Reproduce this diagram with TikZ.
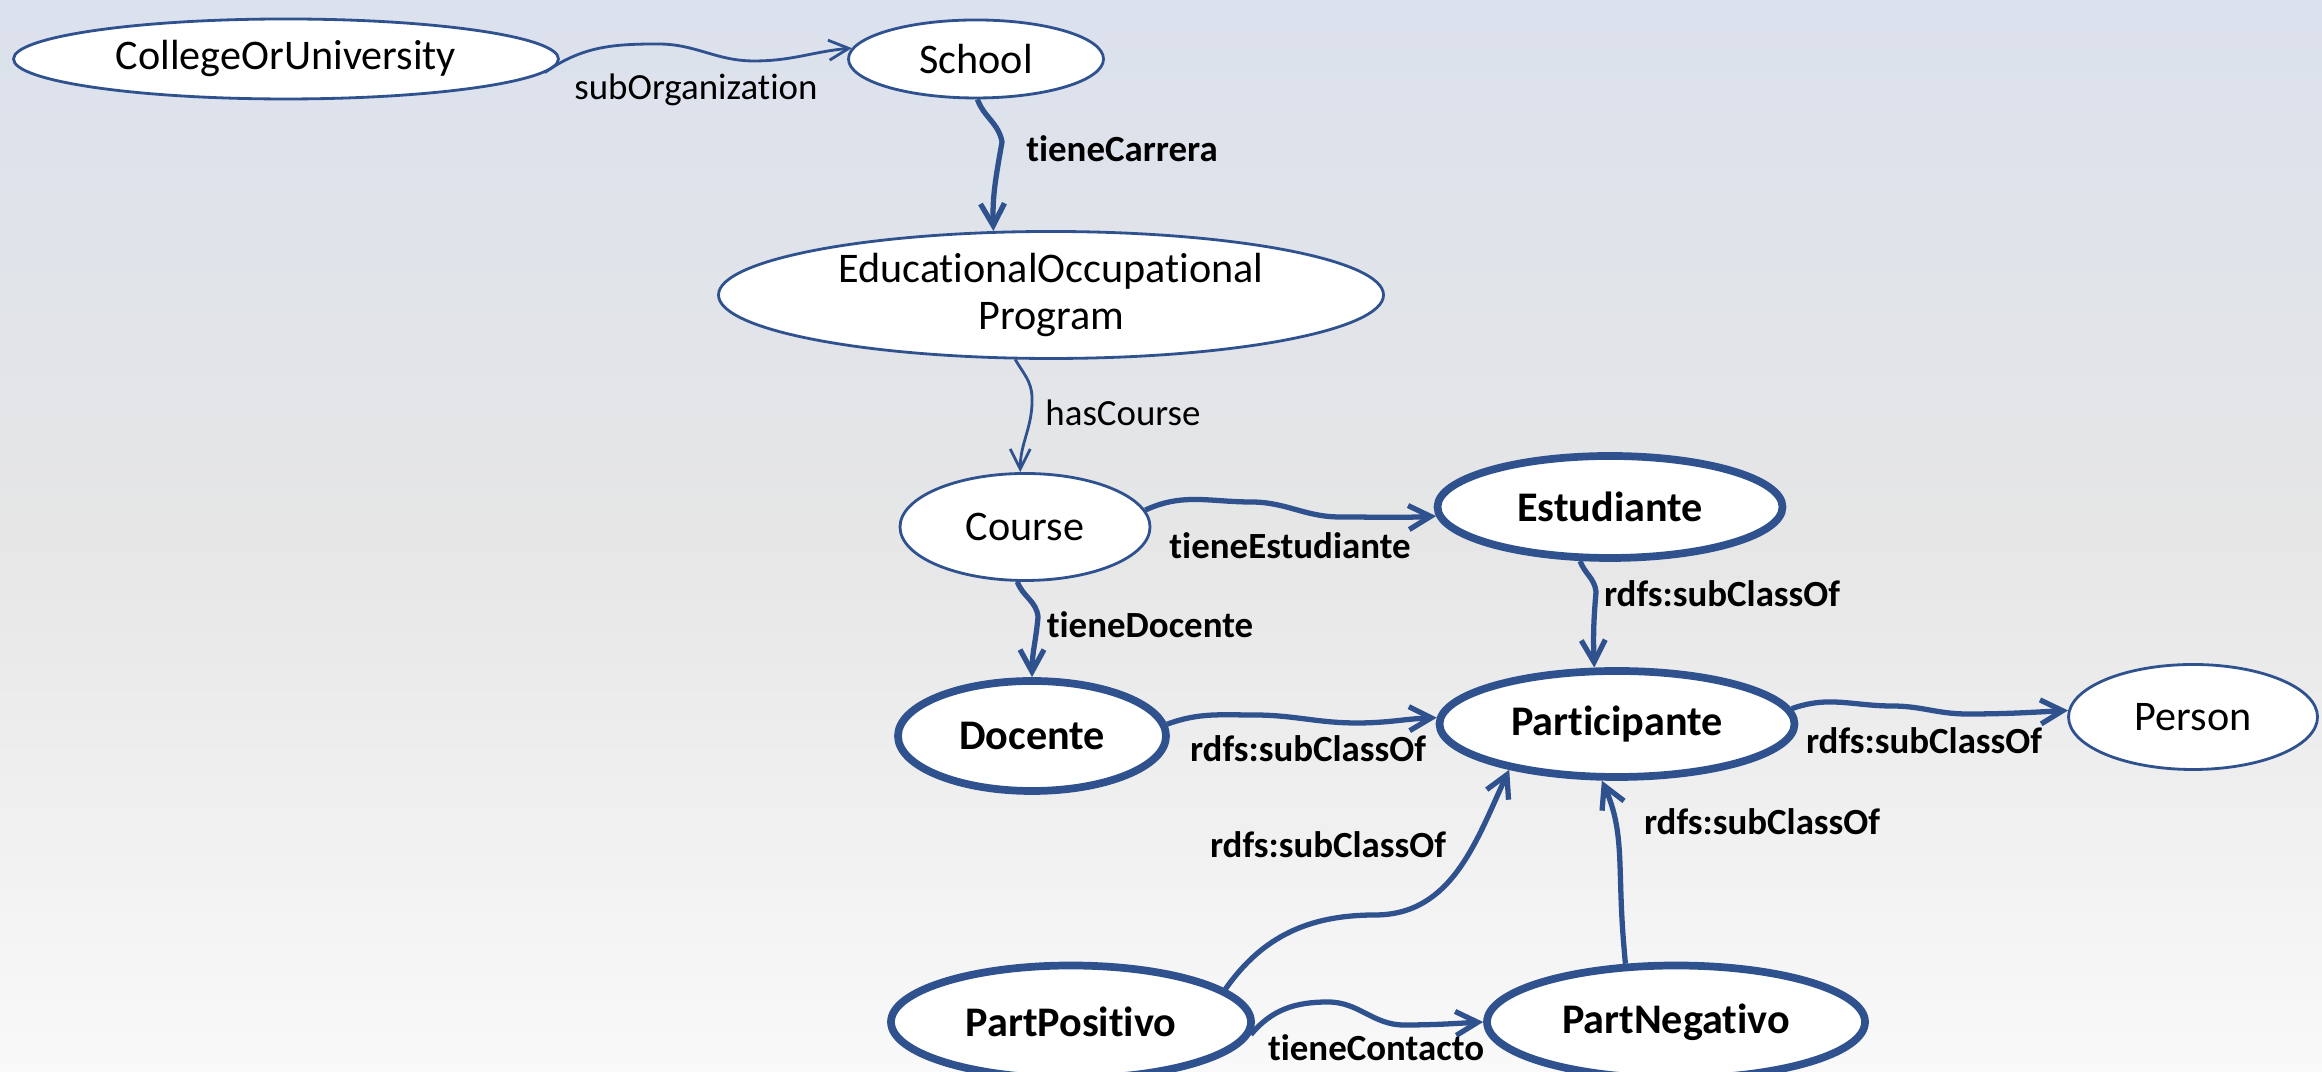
\documentclass[tikz,border=0pt]{standalone}
\usepackage{fontspec}
\setmainfont[Ligatures={NoCommon}]{Carlito}
\usetikzlibrary{shapes.geometric, arrows.meta}

\definecolor{edgeblue}{RGB}{47,82,143}
\definecolor{bgtop}{RGB}{219,225,237}
\definecolor{bgmid}{RGB}{230,230,230}
\definecolor{bgbot}{RGB}{249,249,249}

\tikzset{
  cls/.style={ellipse, draw=edgeblue, fill=white, line width=0.8pt, inner sep=0pt,
    font=\fontsize{12}{13.5}\selectfont, align=center},
  bcls/.style={cls, line width=2.2pt, font=\fontsize{12}{13.5}\selectfont\bfseries},
  rel/.style={draw=edgeblue, line width=0.8pt, -{Straight Barb[length=2mm,width=2mm]}},
  brel/.style={rel, line width=1.5pt, -{Straight Barb[length=2.2mm,width=2.4mm]}},
  lbl/.style={inner sep=1pt, font=\fontsize{10.5}{12}\selectfont},
  blbl/.style={lbl, font=\fontsize{10.5}{12}\selectfont\bfseries},
}

\begin{document}
\begin{tikzpicture}
        \shade[top color=bgtop, bottom color=bgbot, middle color=bgmid] (0,0) rectangle (23.22,10.72);
        \useasboundingbox (0,0) rectangle (23.22,10.72);

        % classes
        \node[cls, minimum width=5.45cm, minimum height=0.8cm] (cu) at (2.86,10.13) {CollegeOrUniversity};
        \node[cls, minimum width=2.55cm, minimum height=0.78cm] (school) at (9.76,10.13) {School};
        \node[cls, minimum width=6.65cm, minimum height=1.27cm] (edu) at (10.51,7.77) {EducationalOccupational\\Program};
        \node[cls, minimum width=2.5cm, minimum height=1.07cm] (course) at (10.25,5.45) {Course};
        \node[bcls, minimum width=3.45cm, minimum height=1.02cm] (estud) at (16.10,5.65) {Estudiante};
        \node[bcls, minimum width=2.68cm, minimum height=1.1cm] (docente) at (10.32,3.36) {Docente};
        \node[bcls, minimum width=3.55cm, minimum height=1.06cm] (partic) at (16.17,3.48) {Participante};
        \node[cls, minimum width=2.49cm, minimum height=1.05cm] (person) at (21.93,3.55) {Person};
        \node[bcls, minimum width=3.6cm, minimum height=1.13cm] (ppos) at (10.71,0.50) {PartPositivo};
        \node[bcls, minimum width=3.78cm, minimum height=1.13cm] (pneg) at (16.76,0.50) {PartNegativo};

        % bends of the connectors
        \coordinate (sub1) at (6.58,10.28);
        \coordinate (sub2) at (7.54,10.11);
        \coordinate (car1) at (10.02,9.30);
        \coordinate (has1) at (10.32,6.75);
        \coordinate (est1) at (12.51,5.70);
        \coordinate (est2) at (13.40,5.55);
        \coordinate (doc1) at (10.38,4.55);
        \coordinate (es1) at (15.96,4.80);
        \coordinate (dp1) at (12.54,3.57);
        \coordinate (dp2) at (13.57,3.49);
        \coordinate (pp1) at (18.92,3.66);
        \coordinate (pp2) at (19.67,3.58);
        \coordinate (pos1) at (13.75,1.57);
        \coordinate (neg1) at (16.21,1.75);
        \coordinate (tc1) at (13.28,0.70);
        \coordinate (tc2) at (14.04,0.47);

        \draw[rel] (cu.-3) to[out=35,in=180] (sub1) to[out=0,in=180] (sub2) to[out=0,in=185] (school.175);
        \draw[brel] (school.272) to[out=-70,in=100] (car1) to[out=-100,in=92] (edu.132);
        \draw[rel] (edu.241) to[out=-60,in=92] (has1) to[out=-88,in=90] (course.95);
        \draw[brel] (course.8) to[out=25,in=180] (est1) to[out=0,in=180] (est2) to[out=0,in=183] (estud.183);
        \draw[brel] (course.262) to[out=-70,in=95] (doc1) to[out=-95,in=90] (docente.north);
        \draw[brel] (estud.241) to[out=-70,in=95] (es1) to[out=-95,in=92] (partic.112);
        \draw[brel] (docente.5) to[out=20,in=180] (dp1) to[out=0,in=180] (dp2) to[out=0,in=182] (partic.178);
        \draw[brel] (partic.5) to[out=20,in=180] (pp1) to[out=0,in=180] (pp2) to[out=0,in=183] (person.177);
        \draw[brel] (ppos.12) to[out=55,in=180] (pos1) to[out=0,in=-115] (partic.203);
        \draw[brel] (pneg.131) to[out=95,in=-88] (neg1) to[out=92,in=-66] (partic.255);
        \draw[brel] (ppos.-4) to[out=50,in=180] (tc1) to[out=0,in=180] (tc2) to[out=0,in=183] (pneg.west);

        % labels
        \node[lbl] (lsub) at (6.96,9.82) {subOrganization};
        \node[blbl] (lcar) at (11.22,9.23) {tieneCarrera};
        \node[lbl] (lhas) at (11.23,6.59) {hasCourse};
        \node[blbl] (lest) at (12.90,5.26) {tieneEstudiante};
        \node[blbl] (ldoc) at (11.50,4.47) {tieneDocente};
        \node[blbl] (les) at (17.22,4.78) {rdfs:subClassOf};
        \node[blbl] (ldp) at (13.08,3.23) {rdfs:subClassOf};
        \node[blbl] (lpp) at (19.24,3.31) {rdfs:subClassOf};
        \node[blbl] (lpos) at (13.28,2.27) {rdfs:subClassOf};
        \node[blbl] (lneg) at (17.62,2.50) {rdfs:subClassOf};
        \node[blbl] (ltc) at (13.76,0.24) {tieneContacto};
\end{tikzpicture}
\end{document}
